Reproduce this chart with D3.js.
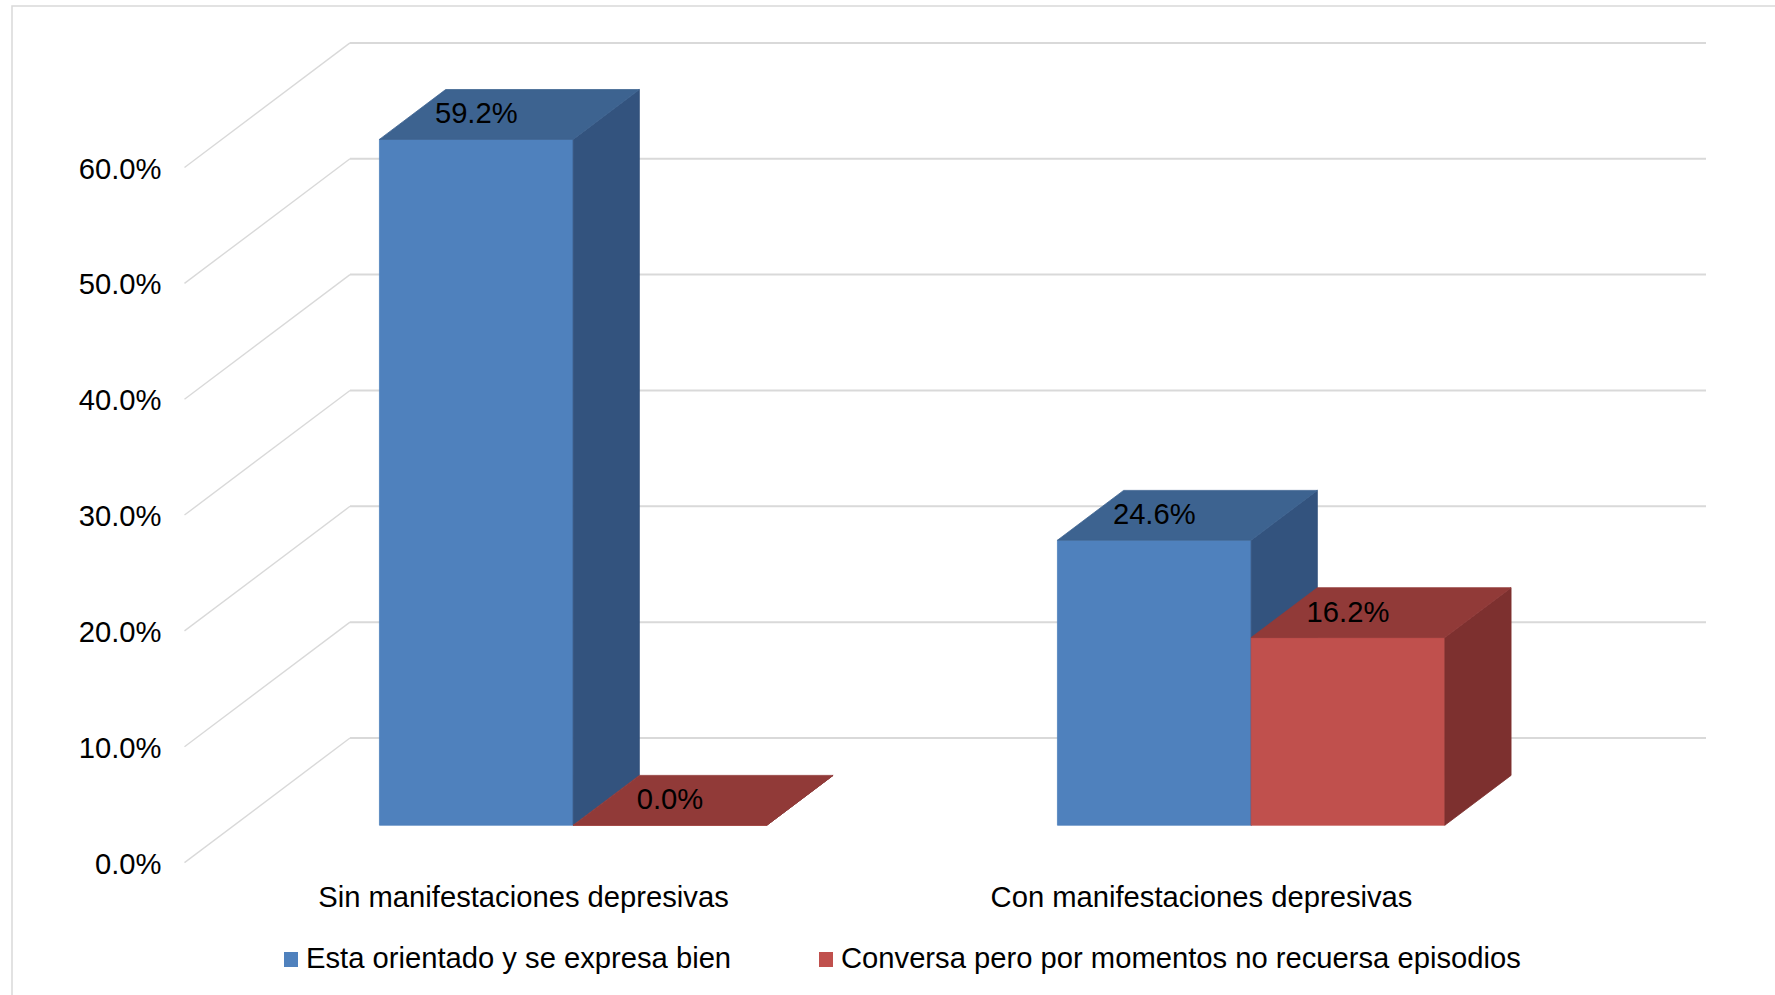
<!DOCTYPE html>
<html>
<head>
<meta charset="utf-8">
<script src="https://cdn.jsdelivr.net/npm/d3@7"></script>
<style>
  body { margin: 0; background: #fff; }
  svg text { font-family: "Liberation Sans", Arial, sans-serif; fill: #000; }
</style>
</head>
<body>
<script>
// datos
var categories = ["Sin manifestaciones depresivas", "Con manifestaciones depresivas"];
var seriesNames = ["Esta orientado y se expresa bien", "Conversa pero por momentos no recuersa episodios"];
var orientado = [0.592, 0.246];
var conversa = [0.0, 0.162];
var yTicks = [0, 0.1, 0.2, 0.3, 0.4, 0.5, 0.6];

var values = [orientado, conversa];
var colors = [
    {front: "#4F81BD", top: "#3D6390", side: "#33537E"},
    {front: "#C0504D", top: "#913A38", side: "#7D302F"}
];

var W = 1775, H = 995;
var DX = 165.5, DY = -124.6;  // profundidad del piso
var D0 = 0.3, D1 = 0.7;       // la barra ocupa esta franja de profundidad
var fontSize = 29.2;

var svg = d3.select("body").append("svg").attr("width", W).attr("height", H);

// borde del area del grafico
svg.append("rect").attr("x", 12).attr("y", 6).attr("width", W).attr("height", H)
    .attr("fill", "none").attr("stroke", "#D9D9D9").attr("stroke-width", 1.5);

var x = d3.scaleBand().domain(categories).range([184.5, 1540.5]).padding(0);
var x1 = d3.scaleBand().domain(seriesNames).range([0, x.bandwidth()]).paddingInner(0).paddingOuter(0.75);
var y = d3.scaleLinear().domain([0, 0.6]).range([862.6, 167.5]);

function P(px, v, d) {
    return [px + d * DX, y(v) + d * DY];
}

// lineas de division: pared izquierda (diagonal) y pared del fondo
var grid = svg.append("g");
yTicks.forEach(function (t) {
    var a = P(x.range()[0], t, 0), b = P(x.range()[0], t, 1), c = P(x.range()[1], t, 1);
    grid.append("line").attr("x1", a[0]).attr("y1", a[1]).attr("x2", b[0]).attr("y2", b[1])
        .attr("stroke", "#D9D9D9").attr("stroke-width", 1.4);
    grid.append("line").attr("x1", b[0]).attr("y1", b[1]).attr("x2", c[0]).attr("y2", c[1])
        .attr("stroke", "#D9D9D9").attr("stroke-width", 2);
});

// eje y
var axis = svg.append("g").attr("transform", "translate(" + x.range()[0] + ",0)")
    .call(d3.axisLeft(y).tickValues(yTicks).tickFormat(d3.format(".1%")).tickSize(0).tickPadding(23));
axis.select(".domain").remove();
axis.selectAll("text").attr("font-size", fontSize).attr("font-family", null).attr("dy", "0.36em");

// barras 3D
var bars = svg.append("g");
categories.forEach(function (cat, ci) {
    seriesNames.forEach(function (s, si) {
        var v = values[si][ci];
        var xa = x(cat) + x1(s), xb = xa + x1.bandwidth();
        var col = colors[si];
        var faces = [
            {pts: [P(xa, 0, D0), P(xb, 0, D0), P(xb, v, D0), P(xa, v, D0)], fill: col.front},
            {pts: [P(xb, 0, D0), P(xb, 0, D1), P(xb, v, D1), P(xb, v, D0)], fill: col.side},
            {pts: [P(xa, v, D0), P(xb, v, D0), P(xb, v, D1), P(xa, v, D1)], fill: col.top}
        ];
        faces.forEach(function (f) {
            bars.append("polygon").attr("points", f.pts.map(function (p) { return p.join(","); }).join(" "))
                .attr("fill", f.fill).attr("stroke", f.fill).attr("stroke-width", 0.8);
        });
        // etiqueta: centro de la cara frontal en x, mitad de la cara superior en y
        var fx = P(xa + x1.bandwidth() / 2, v, D0)[0];
        var my = P(xa, v, (D0 + D1) / 2)[1];
        bars.append("text").attr("x", fx).attr("y", my + 9)
            .attr("text-anchor", "middle").attr("font-size", fontSize)
            .text(d3.format(".1%")(v));
    });
});

// etiquetas de categoria
svg.append("g").selectAll("text").data(categories).join("text")
    .attr("x", function (d) { return x(d) + x.bandwidth() / 2; })
    .attr("y", 907).attr("text-anchor", "middle").attr("font-size", fontSize)
    .text(function (d) { return d; });

// leyenda
var legendX = [284, 819];
var legend = svg.append("g").selectAll("g").data(seriesNames).join("g")
    .attr("transform", function (d, i) { return "translate(" + legendX[i] + ",0)"; });
legend.append("rect").attr("x", 0).attr("y", 952).attr("width", 14).attr("height", 15)
    .attr("fill", function (d, i) { return colors[i].front; });
legend.append("text").attr("x", 22).attr("y", 968).attr("font-size", fontSize)
    .text(function (d) { return d; });
</script>
</body>
</html>
